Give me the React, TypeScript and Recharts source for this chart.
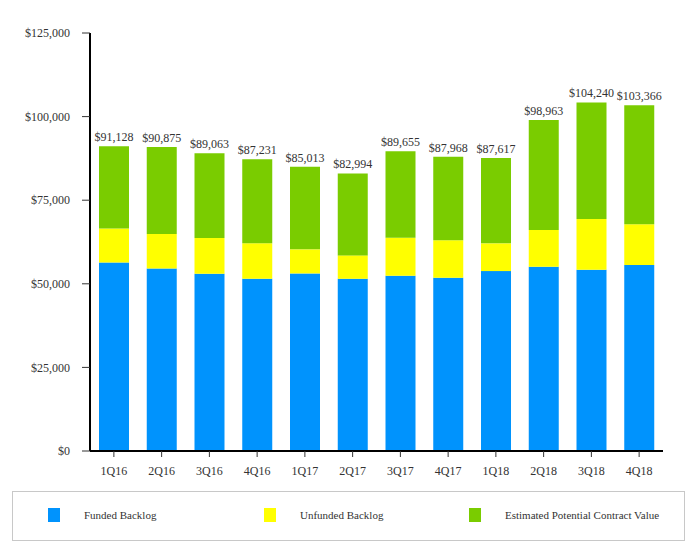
import { Bar, BarChart, LabelList, XAxis, YAxis } from "recharts";

const quarters = ["1Q16", "2Q16", "3Q16", "4Q16", "1Q17", "2Q17", "3Q17", "4Q17", "1Q18", "2Q18", "3Q18", "4Q18"];
const funded = [56400, 54600, 53000, 51500, 53100, 51500, 52400, 51800, 53800, 55100, 54200, 55600];
const unfunded = [10100, 10300, 10700, 10600, 7200, 7000, 11400, 11200, 8300, 11000, 15200, 12200];
const potential = [24628, 25975, 25363, 25131, 24713, 24494, 25855, 24968, 25517, 32863, 34840, 35566];
const totals = [91128, 90875, 89063, 87231, 85013, 82994, 89655, 87968, 87617, 98963, 104240, 103366];
const yTicks = [0, 25000, 50000, 75000, 100000, 125000];

const BLUE = "#0093fd";
const YELLOW = "#ffff00";
const GREEN = "#7acc00";
const FONT = "Liberation Serif";
const TEXT = "#333";

const data = quarters.map((q, i) => ({
  quarter: q,
  funded: funded[i],
  unfunded: unfunded[i],
  potential: potential[i],
  total: totals[i],
}));

const money = (v: number) => `$${Number(v).toLocaleString("en-US")}`;

const legendItems = [
  { label: "Funded Backlog", color: BLUE, left: 35 },
  { label: "Unfunded Backlog", color: YELLOW, left: 251 },
  { label: "Estimated Potential Contract Value", color: GREEN, left: 456 },
];

export default function App() {
  return (
    <div style={{ position: "absolute", left: 0, top: 0, width: 696, height: 550, background: "#fff" }}>
      <BarChart
        width={696}
        height={550}
        data={data}
        margin={{ top: 33, right: 33, bottom: 69, left: 0 }}
        barSize={30}
      >
        <XAxis
          dataKey="quarter"
          height={30}
          axisLine={{ stroke: "#000", strokeWidth: 2 }}
          tickLine={{ stroke: "#333" }}
          tickSize={6}
          tickMargin={9}
          tick={{ fontFamily: FONT, fontSize: 12, fill: TEXT }}
        />
        <YAxis
          width={90}
          domain={[0, 125000]}
          ticks={yTicks}
          tickFormatter={money}
          axisLine={{ stroke: "#000", strokeWidth: 2 }}
          tickLine={{ stroke: "#333" }}
          tickSize={8}
          tickMargin={12}
          tick={{ fontFamily: FONT, fontSize: 12, fill: TEXT }}
        />
        <Bar dataKey="funded" stackId="a" fill={BLUE} isAnimationActive={false} />
        <Bar dataKey="unfunded" stackId="a" fill={YELLOW} isAnimationActive={false} />
        <Bar dataKey="potential" stackId="a" fill={GREEN} isAnimationActive={false}>
          <LabelList
            dataKey="total"
            position="top"
            offset={5}
            formatter={(v: any) => money(v)}
            style={{ fontFamily: FONT, fontSize: 12, fill: TEXT }}
          />
        </Bar>
      </BarChart>
      <div
        style={{
          position: "absolute",
          left: 12,
          top: 491,
          width: 671,
          height: 48,
          border: "1px solid #c8c8c8",
          fontFamily: FONT,
          fontSize: 11,
          color: TEXT,
        }}
      >
        {legendItems.map((it) => (
          <div
            key={it.label}
            style={{ position: "absolute", left: it.left, top: 16, display: "flex", alignItems: "center" }}
          >
            <span style={{ display: "inline-block", width: 12, height: 14, background: it.color }} />
            <span style={{ marginLeft: 24 }}>{it.label}</span>
          </div>
        ))}
      </div>
    </div>
  );
}
